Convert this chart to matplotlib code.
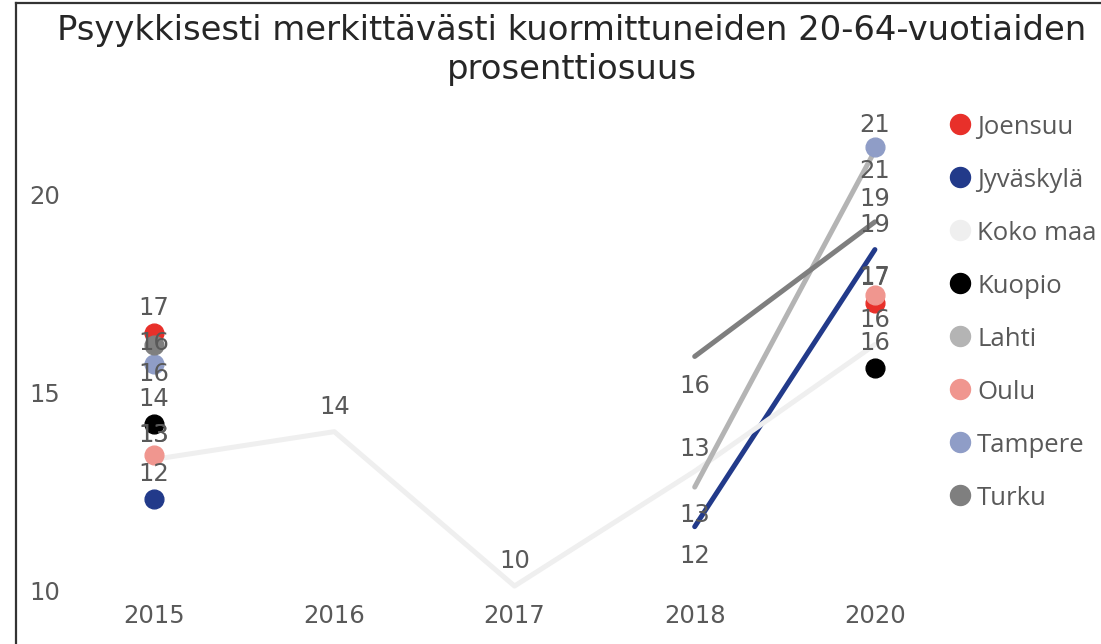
import numpy as np
import matplotlib
matplotlib.use("Agg")
import matplotlib.pyplot as plt
from matplotlib.lines import Line2D

nan = np.nan
years = ["2015", "2016", "2017", "2018", "2020"]
series_names = ["Joensuu", "Jyväskylä", "Koko maa", "Kuopio", "Lahti", "Oulu", "Tampere", "Turku"]
joensuu = [16.5, nan, nan, nan, 17.25]
jyvaskyla = [12.3, nan, nan, 11.6, 18.6]
koko_maa = [13.3, 14.0, 10.1, 13.0, 16.2]
kuopio = [14.2, nan, nan, nan, 15.6]
lahti = [nan, nan, nan, 12.6, 21.1]
oulu = [13.4, nan, nan, nan, 17.45]
tampere = [15.7, nan, nan, nan, 21.2]
turku = [16.2, nan, nan, 15.9, 19.3]
values = [joensuu, jyvaskyla, koko_maa, kuopio, lahti, oulu, tampere, turku]
yticks = [10, 15, 20]
title = "Psyykkisesti merkittävästi kuormittuneiden 20-64-vuotiaiden\nprosenttiosuus"

colors = ["#E8302A", "#223A8A", "#EFEFEF", "#000000", "#B4B4B4", "#F0968F", "#8F9DC7", "#7F7F7F"]
# label offsets in pixels (vertical), default above
default_off = 25
label_off = {
    ("Turku", 0): 2, ("Tampere", 0): -10, ("Oulu", 0): 20, ("Koko maa", 0): 24,
    ("Turku", 3): -30, ("Lahti", 3): -28, ("Jyväskylä", 3): -29, ("Koko maa", 3): 22,
    ("Lahti", 4): -20, ("Tampere", 4): 22, ("Turku", 4): 23, ("Oulu", 4): 18,
}


def fmt(v):
    return str(int(np.floor(v + 0.5)))


W, H = 1101, 644
fig = plt.figure(figsize=(W / 100, H / 100), dpi=100)
fig.patch.set_facecolor("white")

x0, x1 = 64, 965
ybot, ytop = 590, 115
ax = fig.add_axes([x0 / W, (H - ybot) / H, (x1 - x0) / W, (ybot - ytop) / H])
ax.set_xlim(-0.5, len(years) - 0.5)
ax.set_ylim(10, 22)
for s in ax.spines.values():
    s.set_visible(False)
ax.set_xticks(range(len(years)))
ax.set_xticklabels(years)
ax.set_yticks(yticks)
ax.tick_params(axis="both", length=0, labelsize=17.5, labelcolor="#595959")
ax.tick_params(axis="x", pad=10)
ax.tick_params(axis="y", pad=3)
ax.patch.set_alpha(0)

xs = np.arange(len(years))
for i, (name, vals, c) in enumerate(zip(series_names, values, colors)):
    v = np.array(vals, dtype=float)
    ax.plot(xs, v, color=c, lw=3.6, solid_capstyle="round", zorder=2 + i, clip_on=False)
    for j in range(len(v)):
        if np.isnan(v[j]):
            continue
        left = j > 0 and not np.isnan(v[j - 1])
        right = j < len(v) - 1 and not np.isnan(v[j + 1])
        if not left and not right:
            ax.plot([xs[j]], [v[j]], marker="o", ms=13.5, color=c, mec=c, ls="none",
                    zorder=2 + i, clip_on=False)
for i, (name, vals) in enumerate(zip(series_names, values)):
    for j, val in enumerate(vals):
        if np.isnan(val):
            continue
        off = label_off.get((name, j), default_off)
        ax.annotate(fmt(val), (xs[j], val), xytext=(0, off), textcoords="offset pixels",
                    ha="center", va="center", fontsize=17.5, color="#595959", zorder=20,
                    annotation_clip=False)

fig.text(572 / W, 1 - 50 / H, title, ha="center", va="center", fontsize=24.4,
         color="#262626", linespacing=1.2)

# legend
leg_y0, leg_dy = 124, 53
for i, (name, c) in enumerate(zip(series_names, colors)):
    yc = leg_y0 + i * leg_dy
    fig.add_artist(Line2D([960 / W], [1 - yc / H], marker="o", ms=14.4, color=c, mec=c,
                          ls="none", transform=fig.transFigure))
    fig.text(977 / W, 1 - (yc + 10) / H, name, ha="left", va="baseline",
             fontsize=18.5, family="Open Sans", color="#595959")

# frame
fig.add_artist(Line2D([16 / W, 16 / W], [0, 1 - 3 / H], color="#333333", lw=1.6,
                      transform=fig.transFigure))
fig.add_artist(Line2D([16 / W, 1], [1 - 3 / H, 1 - 3 / H], color="#333333", lw=1.6,
                      transform=fig.transFigure))

fig.savefig("out.png", dpi=100)
